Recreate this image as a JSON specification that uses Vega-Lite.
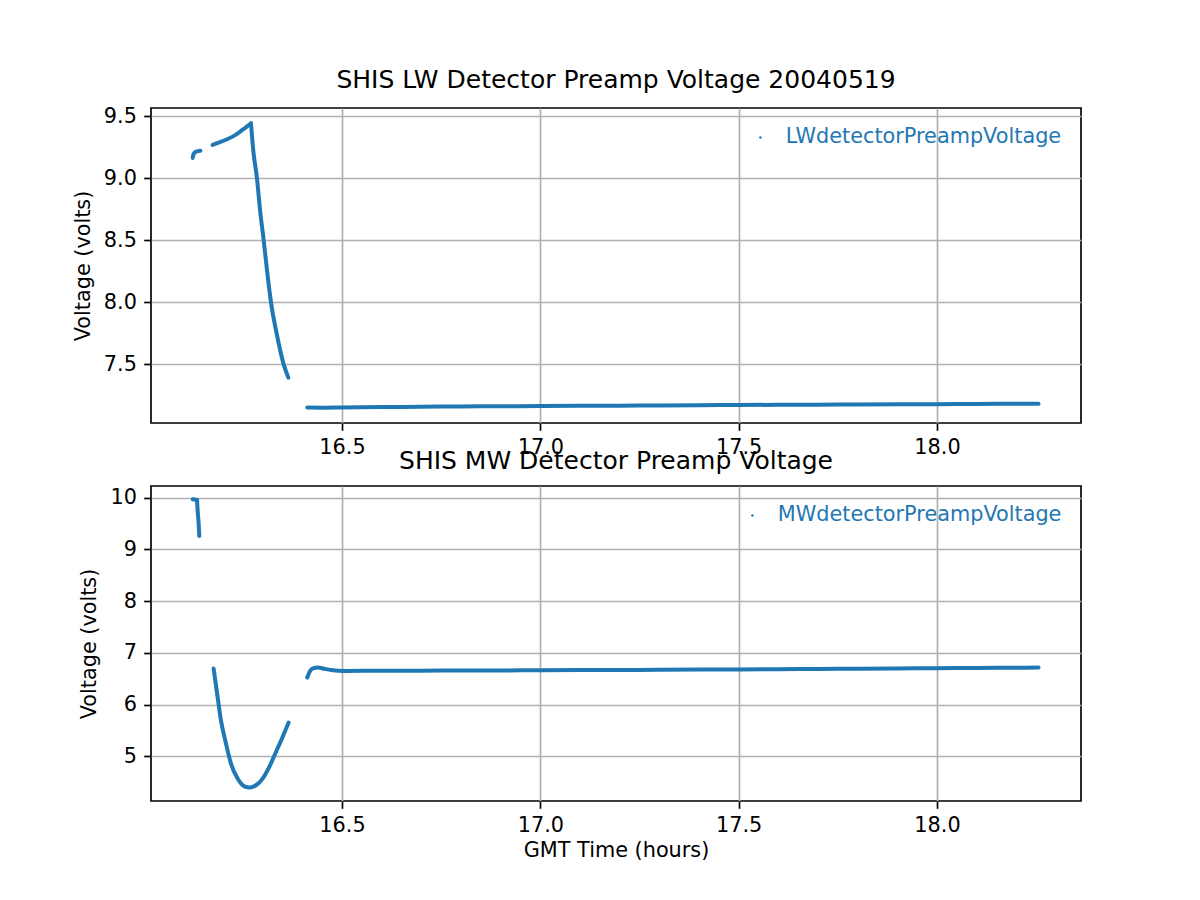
{
  "$schema": "https://vega.github.io/schema/vega-lite/v6.json",
  "background": "white",
  "padding": {"left": 71, "top": 67, "right": 5, "bottom": 5},
  "bounds": "flush",
  "spacing": 63,
  "config": {
    "font": "DejaVu Sans",
    "view": {"stroke": "black", "strokeWidth": 1.67},
    "axis": {
      "domain": false,
      "tickColor": "black",
      "tickWidth": 1.67,
      "tickSize": 7.3,
      "labelPadding": 7.3,
      "labelFontSize": 20.8,
      "labelColor": "black",
      "titleFontSize": 20.8,
      "titleFontWeight": "normal",
      "titleColor": "black",
      "gridColor": "#b0b0b0",
      "gridWidth": 1.67,
      "gridOpacity": 1
    },
    "axisY": {"titlePadding": 10},
    "axisX": {"titlePadding": 5, "labelFlush": false},
    "title": {"fontSize": 25, "fontWeight": "normal", "color": "black", "baseline": "alphabetic", "offset": 12.5, "frame": "group", "anchor": "middle"},
    "legend": {
      "orient": "top-right",
      "offset": 19,
      "padding": 0,
      "labelFontSize": 20.8,
      "labelColor": "#1f77b4",
      "labelOffset": 15,
      "labelLimit": 0,
      "symbolType": "circle",
      "symbolSize": 6,
      "symbolFillColor": "#1f77b4",
      "symbolStrokeColor": "#1f77b4",
      "symbolStrokeWidth": 0
    }
  },
  "resolve": {"scale": {"color": "independent"}, "legend": {"color": "independent"}},
  "vconcat": [
    {
      "title": "SHIS LW Detector Preamp Voltage 20040519",
      "width": 930,
      "height": 315,
      "data": {"values": [
        {"series": "LWdetectorPreampVoltage", "seg": "a", "t": 16.1236, "v": 9.165},
        {"series": "LWdetectorPreampVoltage", "seg": "a", "t": 16.126, "v": 9.197},
        {"series": "LWdetectorPreampVoltage", "seg": "a", "t": 16.132, "v": 9.216},
        {"series": "LWdetectorPreampVoltage", "seg": "a", "t": 16.143, "v": 9.224},
        {"series": "LWdetectorPreampVoltage", "seg": "b", "t": 16.1737, "v": 9.27},
        {"series": "LWdetectorPreampVoltage", "seg": "b", "t": 16.1905, "v": 9.29},
        {"series": "LWdetectorPreampVoltage", "seg": "b", "t": 16.2075, "v": 9.312},
        {"series": "LWdetectorPreampVoltage", "seg": "b", "t": 16.2285, "v": 9.345},
        {"series": "LWdetectorPreampVoltage", "seg": "b", "t": 16.2497, "v": 9.393},
        {"series": "LWdetectorPreampVoltage", "seg": "b", "t": 16.2706, "v": 9.444},
        {"series": "LWdetectorPreampVoltage", "seg": "c", "t": 16.2706, "v": 9.444},
        {"series": "LWdetectorPreampVoltage", "seg": "c", "t": 16.2764, "v": 9.224},
        {"series": "LWdetectorPreampVoltage", "seg": "c", "t": 16.2857, "v": 9.0},
        {"series": "LWdetectorPreampVoltage", "seg": "c", "t": 16.2933, "v": 8.748},
        {"series": "LWdetectorPreampVoltage", "seg": "c", "t": 16.3026, "v": 8.5},
        {"series": "LWdetectorPreampVoltage", "seg": "c", "t": 16.311, "v": 8.257},
        {"series": "LWdetectorPreampVoltage", "seg": "c", "t": 16.321, "v": 8.0},
        {"series": "LWdetectorPreampVoltage", "seg": "c", "t": 16.3354, "v": 7.747},
        {"series": "LWdetectorPreampVoltage", "seg": "c", "t": 16.353, "v": 7.5},
        {"series": "LWdetectorPreampVoltage", "seg": "c", "t": 16.3647, "v": 7.393},
        {"series": "LWdetectorPreampVoltage", "seg": "d", "t": 16.4125, "v": 7.152},
        {"series": "LWdetectorPreampVoltage", "seg": "d", "t": 16.45, "v": 7.151},
        {"series": "LWdetectorPreampVoltage", "seg": "d", "t": 16.5, "v": 7.153},
        {"series": "LWdetectorPreampVoltage", "seg": "d", "t": 16.6, "v": 7.156},
        {"series": "LWdetectorPreampVoltage", "seg": "d", "t": 16.7, "v": 7.158},
        {"series": "LWdetectorPreampVoltage", "seg": "d", "t": 16.8, "v": 7.161},
        {"series": "LWdetectorPreampVoltage", "seg": "d", "t": 16.9, "v": 7.162},
        {"series": "LWdetectorPreampVoltage", "seg": "d", "t": 17.0, "v": 7.164},
        {"series": "LWdetectorPreampVoltage", "seg": "d", "t": 17.1, "v": 7.166},
        {"series": "LWdetectorPreampVoltage", "seg": "d", "t": 17.2, "v": 7.167},
        {"series": "LWdetectorPreampVoltage", "seg": "d", "t": 17.3, "v": 7.169},
        {"series": "LWdetectorPreampVoltage", "seg": "d", "t": 17.4, "v": 7.171},
        {"series": "LWdetectorPreampVoltage", "seg": "d", "t": 17.5, "v": 7.172},
        {"series": "LWdetectorPreampVoltage", "seg": "d", "t": 17.6, "v": 7.174},
        {"series": "LWdetectorPreampVoltage", "seg": "d", "t": 17.7, "v": 7.175},
        {"series": "LWdetectorPreampVoltage", "seg": "d", "t": 17.8, "v": 7.176},
        {"series": "LWdetectorPreampVoltage", "seg": "d", "t": 17.9, "v": 7.178},
        {"series": "LWdetectorPreampVoltage", "seg": "d", "t": 18.0, "v": 7.179},
        {"series": "LWdetectorPreampVoltage", "seg": "d", "t": 18.1, "v": 7.181},
        {"series": "LWdetectorPreampVoltage", "seg": "d", "t": 18.2, "v": 7.182},
        {"series": "LWdetectorPreampVoltage", "seg": "d", "t": 18.256, "v": 7.183}
      ]},
      "mark": {"type": "line", "strokeWidth": 4, "strokeJoin": "round", "strokeCap": "round", "interpolate": "monotone"},
      "encoding": {
        "x": {"field": "t", "type": "quantitative", "scale": {"domain": [16.0185, 18.363], "nice": false, "zero": false},
              "axis": {"values": [16.5, 17.0, 17.5, 18.0], "format": ".1f", "title": null}},
        "y": {"field": "v", "type": "quantitative", "scale": {"domain": [7.027, 9.568], "nice": false, "zero": false},
              "axis": {"values": [7.5, 8.0, 8.5, 9.0, 9.5], "format": ".1f", "title": "Voltage (volts)"}},
        "color": {"field": "series", "type": "nominal", "scale": {"range": ["#1f77b4"]}, "legend": {"title": null}},
        "detail": {"field": "seg", "type": "nominal"}
      }
    },
    {
      "title": "SHIS MW Detector Preamp Voltage",
      "width": 930,
      "height": 315,
      "data": {"values": [
        {"series": "MWdetectorPreampVoltage", "seg": "a", "t": 16.1236, "v": 9.969},
        {"series": "MWdetectorPreampVoltage", "seg": "a", "t": 16.1345, "v": 9.955},
        {"series": "MWdetectorPreampVoltage", "seg": "b", "t": 16.1345, "v": 9.955},
        {"series": "MWdetectorPreampVoltage", "seg": "b", "t": 16.136, "v": 9.762},
        {"series": "MWdetectorPreampVoltage", "seg": "b", "t": 16.1386, "v": 9.504},
        {"series": "MWdetectorPreampVoltage", "seg": "b", "t": 16.1402, "v": 9.259},
        {"series": "MWdetectorPreampVoltage", "seg": "c", "t": 16.1763, "v": 6.698},
        {"series": "MWdetectorPreampVoltage", "seg": "c", "t": 16.1864, "v": 6.148},
        {"series": "MWdetectorPreampVoltage", "seg": "c", "t": 16.1948, "v": 5.697},
        {"series": "MWdetectorPreampVoltage", "seg": "c", "t": 16.2075, "v": 5.246},
        {"series": "MWdetectorPreampVoltage", "seg": "c", "t": 16.2201, "v": 4.859},
        {"series": "MWdetectorPreampVoltage", "seg": "c", "t": 16.2369, "v": 4.568},
        {"series": "MWdetectorPreampVoltage", "seg": "c", "t": 16.2537, "v": 4.419},
        {"series": "MWdetectorPreampVoltage", "seg": "c", "t": 16.268, "v": 4.394},
        {"series": "MWdetectorPreampVoltage", "seg": "c", "t": 16.2831, "v": 4.439},
        {"series": "MWdetectorPreampVoltage", "seg": "c", "t": 16.3, "v": 4.568},
        {"series": "MWdetectorPreampVoltage", "seg": "c", "t": 16.3167, "v": 4.793},
        {"series": "MWdetectorPreampVoltage", "seg": "c", "t": 16.3335, "v": 5.083},
        {"series": "MWdetectorPreampVoltage", "seg": "c", "t": 16.3503, "v": 5.374},
        {"series": "MWdetectorPreampVoltage", "seg": "c", "t": 16.3655, "v": 5.652},
        {"series": "MWdetectorPreampVoltage", "seg": "d", "t": 16.4125, "v": 6.523},
        {"series": "MWdetectorPreampVoltage", "seg": "d", "t": 16.4183, "v": 6.632},
        {"series": "MWdetectorPreampVoltage", "seg": "d", "t": 16.4268, "v": 6.698},
        {"series": "MWdetectorPreampVoltage", "seg": "d", "t": 16.4394, "v": 6.717},
        {"series": "MWdetectorPreampVoltage", "seg": "d", "t": 16.456, "v": 6.69},
        {"series": "MWdetectorPreampVoltage", "seg": "d", "t": 16.4766, "v": 6.665},
        {"series": "MWdetectorPreampVoltage", "seg": "d", "t": 16.5058, "v": 6.651},
        {"series": "MWdetectorPreampVoltage", "seg": "d", "t": 16.6, "v": 6.652},
        {"series": "MWdetectorPreampVoltage", "seg": "d", "t": 16.7, "v": 6.655},
        {"series": "MWdetectorPreampVoltage", "seg": "d", "t": 16.8, "v": 6.657},
        {"series": "MWdetectorPreampVoltage", "seg": "d", "t": 16.9, "v": 6.66},
        {"series": "MWdetectorPreampVoltage", "seg": "d", "t": 17.0, "v": 6.662},
        {"series": "MWdetectorPreampVoltage", "seg": "d", "t": 17.1, "v": 6.666},
        {"series": "MWdetectorPreampVoltage", "seg": "d", "t": 17.2, "v": 6.668},
        {"series": "MWdetectorPreampVoltage", "seg": "d", "t": 17.3, "v": 6.672},
        {"series": "MWdetectorPreampVoltage", "seg": "d", "t": 17.4, "v": 6.676},
        {"series": "MWdetectorPreampVoltage", "seg": "d", "t": 17.5, "v": 6.68},
        {"series": "MWdetectorPreampVoltage", "seg": "d", "t": 17.6, "v": 6.684},
        {"series": "MWdetectorPreampVoltage", "seg": "d", "t": 17.7, "v": 6.688},
        {"series": "MWdetectorPreampVoltage", "seg": "d", "t": 17.8, "v": 6.692},
        {"series": "MWdetectorPreampVoltage", "seg": "d", "t": 17.9, "v": 6.697},
        {"series": "MWdetectorPreampVoltage", "seg": "d", "t": 18.0, "v": 6.703},
        {"series": "MWdetectorPreampVoltage", "seg": "d", "t": 18.1, "v": 6.708},
        {"series": "MWdetectorPreampVoltage", "seg": "d", "t": 18.2, "v": 6.712},
        {"series": "MWdetectorPreampVoltage", "seg": "d", "t": 18.256, "v": 6.716}
      ]},
      "mark": {"type": "line", "strokeWidth": 4, "strokeJoin": "round", "strokeCap": "round", "interpolate": "monotone"},
      "encoding": {
        "x": {"field": "t", "type": "quantitative", "scale": {"domain": [16.0185, 18.363], "nice": false, "zero": false},
              "axis": {"values": [16.5, 17.0, 17.5, 18.0], "format": ".1f", "title": "GMT Time (hours)"}},
        "y": {"field": "v", "type": "quantitative", "scale": {"domain": [4.135, 10.226], "nice": false, "zero": false},
              "axis": {"values": [5, 6, 7, 8, 9, 10], "format": "d", "title": "Voltage (volts)"}},
        "color": {"field": "series", "type": "nominal", "scale": {"range": ["#1f77b4"]}, "legend": {"title": null}},
        "detail": {"field": "seg", "type": "nominal"}
      }
    }
  ]
}
